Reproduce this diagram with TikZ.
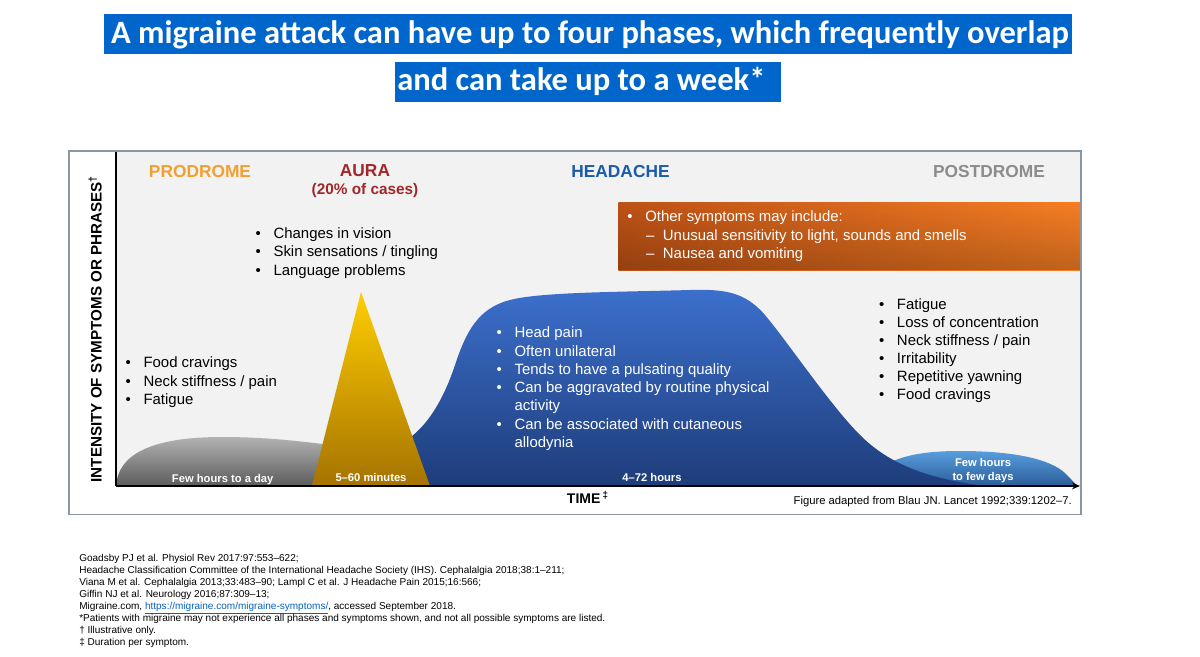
\documentclass[tikz,border=0pt]{standalone}
\usepackage{fontspec}
\setmainfont{Liberation Sans}
\newfontfamily\calibri{Carlito}
\usetikzlibrary{arrows.meta,fadings}
\newcommand\myfs[1]{\fontsize{#1}{#1}\selectfont}
\newcommand\bl{\llap{\textbullet\hspace{9.5pt}}}
\newcommand\dsh{\llap{–\hspace{6.5pt}}}
\definecolor{titleblue}{RGB}{0,102,204}
\definecolor{plotbg}{RGB}{242,242,242}
\definecolor{framegray}{RGB}{138,150,163}
\definecolor{prodc}{RGB}{240,160,48}
\definecolor{aurac}{RGB}{160,40,42}
\definecolor{headc}{RGB}{26,92,168}
\definecolor{postc}{RGB}{140,140,140}
\definecolor{grayT}{RGB}{178,178,178}
\definecolor{grayB}{RGB}{92,92,92}
\definecolor{auraT}{RGB}{255,206,0}
\definecolor{auraB}{RGB}{165,115,0}
\definecolor{headT}{RGB}{60,112,204}
\definecolor{headB}{RGB}{30,60,122}
\definecolor{postT}{RGB}{88,158,222}
\definecolor{postB}{RGB}{42,92,152}
\definecolor{orgL}{RGB}{190,82,22}
\definecolor{orgR}{RGB}{246,126,36}
\definecolor{linkblue}{RGB}{5,99,193}
\begin{document}
\begin{tikzpicture}[x=0.75pt,y=-0.75pt,
  lbl/.style={inner sep=0pt, anchor=base west},
  bt/.style={lbl, font=\myfs{11.2}},
  wbt/.style={bt, text=white},
  phase/.style={inner sep=0pt, anchor=base, font=\bfseries\myfs{13}},
  dur/.style={inner sep=0pt, anchor=base, font=\bfseries\myfs{8.4}, text=white},
  foot/.style={lbl, font=\myfs{7.52}},
  ttl/.style={inner sep=0pt, font=\calibri\bfseries\myfs{24.4}, text=white},
  axisline/.style={line width=1.3pt, black}
]
\useasboundingbox (0,0) rectangle (1200,657);
\fill[white] (0,0) rectangle (1200,657);

% ---- title
\fill[titleblue] (104,14) rectangle (1072,54);
\fill[titleblue] (395,62) rectangle (781,101.5);
\node[ttl, anchor=base] (t1) at (590,43.3) {A migraine attack can have up to four phases, which frequently overlap};
\node[ttl, anchor=base west] (t2) at (397,90.7) {and can take up to a week*};

% ---- chart frame
\fill[plotbg] (116,152) rectangle (1080,486);
\draw[framegray, line width=1.1pt] (69,151) rectangle (1081,514.5);

% ---- orange box
\shade[left color=orgL, right color=orgR] (618.3,202.3) rectangle (1080,270);
\fill[black, opacity=0.22, path fading=north] (618.3,202.3) rectangle (1080,270);

% ---- curves
\shade[top color=grayT, bottom color=grayB] (116,486) .. controls (118,455) and (150,437) .. (222,437) .. controls (270,437) and (305,442) .. (340,446) -- (340,486) -- cycle;
\shade[top color=postT, bottom color=postB] (880,486) -- (880,468) .. controls (900,455) and (925,451) .. (960,451) .. controls (1010,451) and (1050,458) .. (1066,474) .. controls (1072,480) and (1075,484) .. (1078,486) -- cycle;
\shade[top color=headT, bottom color=headB] (395,486) -- (395,447) .. controls (420,435) and (440,410) .. (455,365) .. controls (466,332) and (478,308) .. (510,300) .. controls (540,292) and (620,292) .. (690,290) .. controls (725,289) and (745,292) .. (765,315) .. controls (790,345) and (830,405) .. (860,435) .. controls (885,460) and (920,478) .. (985,486) -- cycle;
\shade[top color=auraT, bottom color=auraB] (361,292) -- (430,486) -- (312,486) -- cycle;

% ---- axes
\coordinate (o) at (116,486);
\coordinate (ytop) at (116,152);
\coordinate (xend) at (1080,486);
\draw[axisline] (ytop) -- (o);
\draw[axisline, -{Stealth[length=6pt,width=5pt]}] (o) -- (xend);

\node[inner sep=0pt, anchor=base, rotate=90, font=\bfseries\myfs{11.4}] (ylab) at (101.7,329) {INTENSITY OF SYMPTOMS OR PHRASES\textsuperscript{†}};
\node[lbl, font=\bfseries\myfs{10.5}] (xlab) at (566.7,503.3) {TIME\,\textsuperscript{‡}};
\node[inner sep=0pt, anchor=base east, font=\myfs{8.45}] (src) at (1072,504) {Figure adapted from Blau JN. Lancet 1992;339:1202–7.};

% ---- phase headers
\node[phase, text=prodc] (hpro) at (200,177.5) {PRODROME};
\node[phase, text=aurac] (haura) at (365,176) {AURA};
\node[phase, text=aurac, font=\bfseries\myfs{11.5}] (haura2) at (365,194.5) {(20\% of cases)};
\node[phase, text=headc] (hhead) at (620.5,177) {HEADACHE};
\node[phase, text=postc] (hpost) at (989,177) {POSTDROME};

% ---- prodrome list
\node[bt] (pr1) at (143.3,367.7) {\bl Food cravings};
\node[bt] (pr2) at (143.3,386) {\bl Neck stiffness / pain};
\node[bt] (pr3) at (143.3,404.3) {\bl Fatigue};

% ---- aura list
\node[bt] (au1) at (273.3,238.3) {\bl Changes in vision};
\node[bt] (au2) at (273.3,256.7) {\bl Skin sensations / tingling};
\node[bt] (au3) at (273.3,275) {\bl Language problems};

% ---- orange box text
\node[wbt] (or1) at (645,221.7) {\bl Other symptoms may include:};
\node[wbt] (or2) at (662.7,240) {\dsh Unusual sensitivity to light, sounds and smells};
\node[wbt] (or3) at (662.7,258.3) {\dsh Nausea and vomiting};

% ---- headache list
\node[wbt] (he1) at (514.3,337.7) {\bl Head pain};
\node[wbt] (he2) at (514.3,356) {\bl Often unilateral};
\node[wbt] (he3) at (514.3,374.3) {\bl Tends to have a pulsating quality};
\node[wbt] (he4) at (514.3,392.6) {\bl Can be aggravated by routine physical};
\node[wbt] (he5) at (514.3,410.9) {activity};
\node[wbt] (he6) at (514.3,429.2) {\bl Can be associated with cutaneous};
\node[wbt] (he7) at (514.3,447.5) {allodynia};

% ---- postdrome list
\node[bt] (po1) at (896.7,309) {\bl Fatigue};
\node[bt] (po2) at (896.7,327.1) {\bl Loss of concentration};
\node[bt] (po3) at (896.7,345.2) {\bl Neck stiffness / pain};
\node[bt] (po4) at (896.7,363.3) {\bl Irritability};
\node[bt] (po5) at (896.7,381.4) {\bl Repetitive yawning};
\node[bt] (po6) at (896.7,399.5) {\bl Food cravings};

% ---- durations
\node[dur] (d1) at (222.7,482) {Few hours to a day};
\node[dur] (d2) at (371,481) {5–60 minutes};
\node[dur] (d3) at (652,481) {4–72 hours};
\node[dur] (d4) at (983,466.7) {Few hours};
\node[dur] (d5) at (983,480) {to few days};

% ---- footnotes
\node[foot] (f1) at (79,561.5) {Goadsby PJ et al. Physiol Rev 2017:97:553–622;};
\node[foot] (f2) at (79,573.5) {Headache Classification Committee of the International Headache Society (IHS). Cephalalgia 2018;38:1–211;};
\node[foot] (f3) at (79,585.5) {Viana M et al. Cephalalgia 2013;33:483–90; Lampl C et al. J Headache Pain 2015;16:566;};
\node[foot] (f4) at (79,597.5) {Giffin NJ et al. Neurology 2016;87:309–13;};
\node[foot] (f5) at (79,609.5) {Migraine.com, \textcolor{linkblue}{\underline{https://migraine.com/migraine-symptoms/}}, accessed September 2018.};
\node[foot] (f6) at (79,621.5) {*Patients with migraine may not experience all phases and symptoms shown, and not all possible symptoms are listed.};
\node[foot] (f7) at (79,633.5) {† Illustrative only.};
\node[foot] (f8) at (79,645.5) {‡ Duration per symptom.};
\end{tikzpicture}
\end{document}
